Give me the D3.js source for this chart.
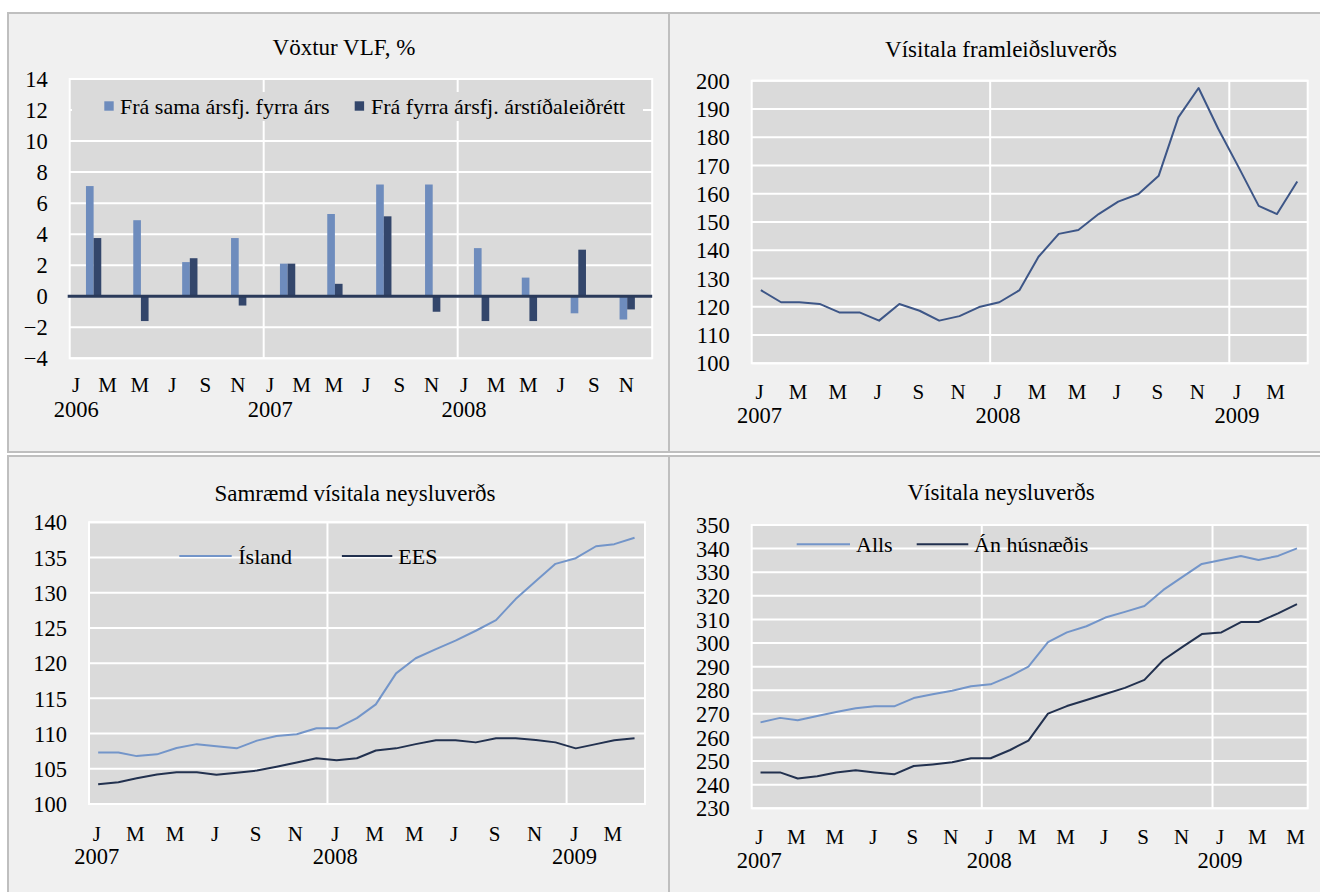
<!DOCTYPE html>
<html><head><meta charset="utf-8">
<script src="https://cdn.jsdelivr.net/npm/d3@7"></script>
<style>
body{margin:0;background:#fff}
svg{display:block;font-family:"Liberation Serif","Times New Roman",serif}
svg text{font-family:"Liberation Serif","Times New Roman",serif !important}
</style>
</head><body>
<svg id="c" width="1320" height="892"></svg>
<script>
// ---------- DATA ----------
const monthLetters = ["J","M","M","J","S","N"]; // Jan, Mar, May, Jul, Sep, Nov

// Panel 1: Vöxtur VLF, % (quarterly)
const vlfQuarters = ["2006Q1","2006Q2","2006Q3","2006Q4","2007Q1","2007Q2","2007Q3","2007Q4","2008Q1","2008Q2","2008Q3","2008Q4"];
const vlfYoY = [7.1, 4.9, 2.2, 3.75, 2.1, 5.3, 7.2, 7.2, 3.1, 1.2, -1.1, -1.5];
const vlfQoQ = [3.75, -1.6, 2.45, -0.6, 2.1, 0.8, 5.15, -1.0, -1.6, -1.6, 3.0, -0.85];
const vlfTicks = [-4,-2,0,2,4,6,8,10,12,14];
const vlfLegend = ["Frá sama ársfj. fyrra árs","Frá fyrra ársfj. árstíðaleiðrétt"];

// Panel 2: Vísitala framleiðsluverðs (monthly)
const ppiMonths = ["2007-01","2007-02","2007-03","2007-04","2007-05","2007-06","2007-07","2007-08","2007-09","2007-10","2007-11","2007-12",
  "2008-01","2008-02","2008-03","2008-04","2008-05","2008-06","2008-07","2008-08","2008-09","2008-10","2008-11","2008-12",
  "2009-01","2009-02","2009-03","2009-04"];
const ppiValues = [125.9,121.6,121.6,121.0,118.0,118.0,115.1,121.0,118.6,115.1,116.7,119.9,
  121.6,125.9,137.7,145.8,147.2,152.8,157.2,159.9,166.4,187.0,197.4,183.0,
  169.5,155.7,152.8,164.3];
const ppiTicks = [100,110,120,130,140,150,160,170,180,190,200];

// Panel 3: Samræmd vísitala neysluverðs (monthly)
const hicpMonths = ppiMonths.slice();
const hicpIceland = [107.3,107.3,106.8,107.05,107.95,108.5,108.2,107.9,109.0,109.65,109.9,110.75,
  110.75,112.2,114.15,118.55,120.7,122.0,123.2,124.6,126.1,129.1,131.65,134.1,
  134.9,136.6,136.9,137.8];
const hicpEEA = [102.8,103.1,103.65,104.2,104.5,104.5,104.15,104.45,104.75,105.3,105.9,106.5,
  106.2,106.5,107.6,107.9,108.5,109.05,109.05,108.75,109.35,109.35,109.1,108.75,
  107.9,108.5,109.05,109.35];
const hicpTicks = [100,105,110,115,120,125,130,135,140];
const hicpLegend = ["Ísland","EES"];

// Panel 4: Vísitala neysluverðs (monthly)
const cpiMonths = ["2007-01","2007-02","2007-03","2007-04","2007-05","2007-06","2007-07","2007-08","2007-09","2007-10","2007-11","2007-12",
  "2008-01","2008-02","2008-03","2008-04","2008-05","2008-06","2008-07","2008-08","2008-09","2008-10","2008-11","2008-12",
  "2009-01","2009-02","2009-03","2009-04","2009-05"];
const cpiAll = [266.4,268.3,267.3,269.1,270.8,272.4,273.2,273.2,276.7,278.3,279.8,281.7,
  282.5,286.0,290.0,300.4,304.5,307.1,310.8,313.2,315.7,322.5,328.1,333.5,
  335.2,336.9,335.2,336.9,340.1];
const cpiExHousing = [245.2,245.2,242.6,243.6,245.2,246.1,245.2,244.4,247.9,248.6,249.5,251.2,
  251.2,254.7,258.7,270.1,273.3,275.9,278.4,281.0,284.4,292.8,298.5,303.8,
  304.5,308.9,308.9,312.6,316.5];
const cpiTicks = [230,240,250,260,270,280,290,300,310,320,330,340,350];
const cpiLegend = ["Alls","Án húsnæðis"];

// ---------- STYLE ----------
const FONT = '"Liberation Serif","Times New Roman",serif';
const PANEL_BG = "#f0f0f0", PLOT_BG = "#dadada", BORDER = "#bfbfbf";
const LIGHT = "#6e8cbd", DARK = "#33466b";
const LINE_MID = "#3d5687", LINE_LIGHT = "#7395c9", LINE_DARK = "#22314f";
const TITLE_FS = 23, NUM_FS = 22.5, LETTER_FS = 21, LEG_FS = 22;

const svg = d3.select("#c");
const parseMonth = s => { const [y,m] = s.split("-").map(Number); return new Date(y, m-1, 15); };
const parseQuarter = s => { const y = +s.slice(0,4), q = +s.slice(5); return new Date(y, (q-1)*3+1, 15); };

// Panel frames
const frames = [[8,13,661,439],[669,13,660,439],[8,456,661,445],[669,456,660,445]];
svg.selectAll("rect.frame").data(frames).join("rect").attr("class","frame")
  .attr("x",d=>d[0]).attr("y",d=>d[1]).attr("width",d=>d[2]).attr("height",d=>d[3])
  .attr("fill",PANEL_BG).attr("stroke",BORDER).attr("stroke-width",2);

function styleAxis(a, fs){
  a.attr("font-family",null).attr("font-size",fs);
  a.select(".domain").remove();
  a.selectAll("text").attr("fill","#000").style("font-family",FONT).style("font-size",fs+"px");
}

function basePanel(cfg){
  const g = svg.append("g");
  const x = d3.scaleTime().domain(cfg.xDomain).range([cfg.left, cfg.right]);
  const y = d3.scaleLinear().domain([cfg.ticks[0], cfg.ticks[cfg.ticks.length-1]]).range([cfg.bottom, cfg.top]);
  g.append("rect").attr("x",cfg.left).attr("y",cfg.top).attr("width",cfg.right-cfg.left).attr("height",cfg.bottom-cfg.top)
    .attr("fill",PLOT_BG).attr("stroke","#fff").attr("stroke-width",2);
  g.selectAll("line.hg").data(cfg.ticks).join("line").attr("class","hg")
    .attr("x1",cfg.left).attr("x2",cfg.right).attr("y1",d=>y(d)).attr("y2",d=>y(d))
    .attr("stroke","#fff").attr("stroke-width",2);
  const years = d3.timeYear.range(d3.timeDay.offset(cfg.xDomain[0],1), cfg.xDomain[1]);
  g.selectAll("line.vg").data(years).join("line").attr("class","vg")
    .attr("x1",d=>x(d)).attr("x2",d=>x(d)).attr("y1",cfg.top).attr("y2",cfg.bottom)
    .attr("stroke","#fff").attr("stroke-width",2);
  // title
  g.append("text").attr("x",cfg.titleX).attr("y",cfg.titleY).attr("text-anchor","middle")
    .attr("font-size",TITLE_FS).attr("fill","#000").text(cfg.title);
  // y axis
  const ya = g.append("g").attr("transform",`translate(${cfg.left},0)`)
    .call(d3.axisLeft(y).tickValues(cfg.ticks).tickSize(0).tickPadding(22).tickFormat(d3.format("d")));
  styleAxis(ya, NUM_FS);
  ya.selectAll("text").attr("dy","0.34em");
  // x axis month letters
  const lblDates = d3.timeMonth.every(2).range(cfg.xDomain[0], cfg.xDomain[1]);
  const mw = x(new Date(2007,1,1)) - x(new Date(2007,0,1));
  const dx = mw*0.36;
  const xa = g.append("g").attr("transform",`translate(0,${cfg.bottom})`)
    .call(d3.axisBottom(x).tickValues(lblDates).tickSize(0).tickFormat(d=>monthLetters[d.getMonth()/2]));
  styleAxis(xa, LETTER_FS);
  xa.selectAll("text").attr("x",dx).attr("y",cfg.xLabY-cfg.bottom).attr("dy",0);
  const ya2 = g.append("g").attr("transform",`translate(0,${cfg.bottom})`)
    .call(d3.axisBottom(x).tickValues(d3.timeYear.range(cfg.xDomain[0], cfg.xDomain[1])).tickSize(0).tickFormat(d3.timeFormat("%Y")));
  styleAxis(ya2, NUM_FS);
  ya2.selectAll("text").attr("x",dx).attr("y",cfg.yearY-cfg.bottom).attr("dy",0);
  return {g,x,y};
}

// ---------- Panel 1 ----------
(function(){
  const cfg = {left:69.7,right:652.2,top:79,bottom:358.3,ticks:vlfTicks,
    xDomain:[new Date(2006,0,1),new Date(2009,0,1)],title:"Vöxtur VLF, %",titleX:344,titleY:55,xLabY:391.7,yearY:416.7};
  const {g,x,y} = basePanel(cfg);
  // legend box
  g.append("rect").attr("x",72).attr("y",92).attr("width",571).attr("height",29).attr("fill",PLOT_BG);
  const legX = [[104.3,120],[354.7,371]];
  [LIGHT,DARK].forEach((c,i)=>{
    g.append("rect").attr("x",legX[i][0]).attr("y",101.3).attr("width",9.4).attr("height",9.4).attr("fill",c);
    g.append("text").attr("x",legX[i][1]).attr("y",114.3).attr("font-size",LEG_FS).attr("fill","#000").text(vlfLegend[i]);
  });
  const qw = x(new Date(2006,3,1)) - x(new Date(2006,0,1));
  const bw = qw*0.16;
  const rows = vlfQuarters.map((q,i)=>({d:parseQuarter(q),a:vlfYoY[i],b:vlfQoQ[i]}));
  g.selectAll("rect.ba").data(rows).join("rect").attr("class","ba")
    .attr("x",d=>x(d.d)-bw).attr("width",bw)
    .attr("y",d=>y(Math.max(0,d.a))).attr("height",d=>Math.abs(y(d.a)-y(0)))
    .attr("fill",LIGHT);
  g.selectAll("rect.bb").data(rows).join("rect").attr("class","bb")
    .attr("x",d=>x(d.d)).attr("width",bw)
    .attr("y",d=>y(Math.max(0,d.b))).attr("height",d=>Math.abs(y(d.b)-y(0)))
    .attr("fill",DARK);
  g.append("line").attr("x1",cfg.left-2).attr("x2",cfg.right).attr("y1",y(0)).attr("y2",y(0))
    .attr("stroke","#2a3a5a").attr("stroke-width",3);
})();

function lineSeries(g,x,y,months,vals,color,w){
  const pts = months.map((m,i)=>[parseMonth(m),vals[i]]);
  g.append("path").datum(pts).attr("fill","none").attr("stroke",color).attr("stroke-width",w)
    .attr("stroke-linejoin","round")
    .attr("d",d3.line().x(d=>x(d[0])).y(d=>y(d[1])));
}

// ---------- Panel 2 ----------
(function(){
  const cfg = {left:751.7,right:1307.7,top:80.7,bottom:363.3,ticks:ppiTicks,
    xDomain:[new Date(2007,0,1),new Date(2009,4,1)],title:"Vísitala framleiðsluverðs",titleX:1001,titleY:57,xLabY:399.3,yearY:423.3};
  const {g,x,y} = basePanel(cfg);
  lineSeries(g,x,y,ppiMonths,ppiValues,LINE_MID,2);
})();

// ---------- Panel 3 ----------
(function(){
  const cfg = {left:89,right:645,top:522.3,bottom:804,ticks:hicpTicks,
    xDomain:[new Date(2007,0,1),new Date(2009,4,1)],title:"Samræmd vísitala neysluverðs",titleX:355,titleY:501,xLabY:840.7,yearY:864.3};
  const {g,x,y} = basePanel(cfg);
  const leg = [[179.3,231.7,238.3,LINE_LIGHT],[341.9,392.3,398.3,LINE_DARK]];
  leg.forEach((l,i)=>{
    g.append("line").attr("x1",l[0]).attr("x2",l[1]).attr("y1",556).attr("y2",556).attr("stroke",l[3]).attr("stroke-width",2);
    g.append("text").attr("x",l[2]).attr("y",564.3).attr("font-size",LEG_FS).attr("fill","#000").text(hicpLegend[i]);
  });
  lineSeries(g,x,y,hicpMonths,hicpIceland,LINE_LIGHT,2);
  lineSeries(g,x,y,hicpMonths,hicpEEA,LINE_DARK,2);
})();

// ---------- Panel 4 ----------
(function(){
  const cfg = {left:751.7,right:1307.7,top:525,bottom:808.3,ticks:cpiTicks,
    xDomain:[new Date(2007,0,1),new Date(2009,5,1)],title:"Vísitala neysluverðs",titleX:1001,titleY:500,xLabY:844,yearY:868.3};
  const {g,x,y} = basePanel(cfg);
  const leg = [[796.7,850,856,LINE_LIGHT],[916.7,968.3,974,LINE_DARK]];
  leg.forEach((l,i)=>{
    g.append("line").attr("x1",l[0]).attr("x2",l[1]).attr("y1",544.3).attr("y2",544.3).attr("stroke",l[3]).attr("stroke-width",2);
    g.append("text").attr("x",l[2]).attr("y",551.7).attr("font-size",LEG_FS).attr("fill","#000").text(cpiLegend[i]);
  });
  lineSeries(g,x,y,cpiMonths,cpiAll,LINE_LIGHT,2);
  lineSeries(g,x,y,cpiMonths,cpiExHousing,LINE_DARK,2);
})();
</script>
</body></html>
